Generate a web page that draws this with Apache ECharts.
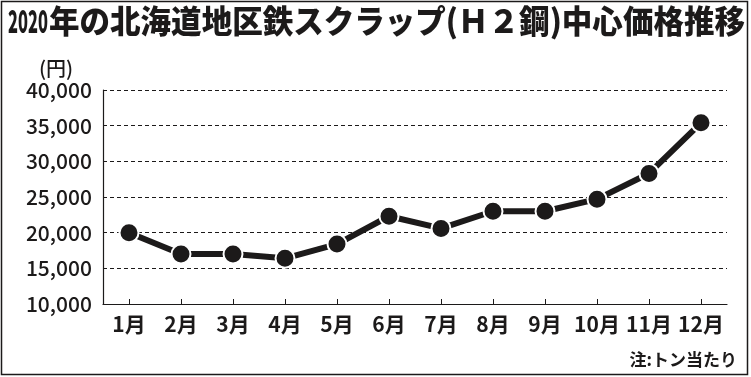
<!DOCTYPE html>
<html>
<head>
<meta charset="utf-8">
<script src="https://cdn.jsdelivr.net/npm/echarts@6/dist/echarts.min.js"></script>
<style>
html,body{margin:0;padding:0;background:#fff;}
#c{width:751px;height:377px;}
</style>
</head>
<body>
<div id="c"></div>
<script>
var months = ['1月','2月','3月','4月','5月','6月','7月','8月','9月','10月','11月','12月'];
var prices = [20000, 17000, 17000, 16400, 18400, 22300, 20600, 23000, 23000, 24700, 28300, 35400];
var yTicks = {min: 10000, max: 40000, interval: 5000};
var titleYear = '2020';
var titleRest = '年の北海道地区鉄スクラップ(Ｈ２鋼)中心価格推移';
var unitLabel = '(円)';
var noteLabel = '注:トン当たり';

var JP = '"Noto Sans CJK JP", "Noto Sans", sans-serif';
var INK = '#1c1a1a';

function measure(text, font) {
  var cv = document.createElement('canvas');
  var ctx = cv.getContext('2d');
  ctx.font = font;
  return ctx.measureText(text).width;
}
var tSize = 32;
var fontStr = '900 ' + tSize + 'px "Noto Sans CJK JP"';
var yearScale = 40 / measure(titleYear, fontStr);
var restScale = 696 / measure(titleRest, fontStr);

var chart = echarts.init(document.getElementById('c'), null, {renderer: 'canvas'});
chart.setOption({
  backgroundColor: '#fff',
  animation: false,
  grid: {left: 103, right: 24, top: 90, bottom: 73},
  xAxis: {
    type: 'category',
    data: months,
    boundaryGap: true,
    axisLine: {lineStyle: {color: INK, width: 1.2}},
    axisTick: {show: true, inside: true, alignWithLabel: true, length: 5, lineStyle: {color: INK, width: 1}},
    axisLabel: {color: INK, fontFamily: JP, fontSize: 21, fontWeight: 'bold', margin: 10, interval: 0}
  },
  yAxis: {
    type: 'value',
    min: yTicks.min, max: yTicks.max, interval: yTicks.interval,
    axisLine: {show: true, lineStyle: {color: INK, width: 1.2}},
    axisTick: {show: false},
    splitLine: {show: true, lineStyle: {color: INK, type: [4, 3], width: 1}},
    axisLabel: {
      color: INK, fontFamily: JP, fontSize: 21, fontWeight: 500, margin: 11,
      formatter: function (v) { return v.toLocaleString('en-US'); }
    }
  },
  series: [{
    type: 'line',
    data: prices,
    symbol: 'circle',
    symbolSize: 19,
    lineStyle: {color: INK, width: 6},
    itemStyle: {color: INK, borderColor: '#fff', borderWidth: 2},
    z: 5
  }],
  graphic: [
    {type: 'rect', shape: {x: 1.5, y: 1.5, width: 746, height: 373}, style: {fill: 'none', stroke: INK, lineWidth: 1.5}, silent: true},
    {type: 'text', x: 8, y: 21, scaleX: yearScale, style: {text: titleYear, font: fontStr, fill: INK, textAlign: 'left', textVerticalAlign: 'middle'}},
    {type: 'text', x: 49, y: 21, scaleX: restScale, style: {text: titleRest, font: fontStr, fill: INK, textAlign: 'left', textVerticalAlign: 'middle'}},
    {type: 'text', x: 39, y: 68, style: {text: unitLabel, font: '500 20px "Noto Sans CJK JP"', fill: INK, textAlign: 'left', textVerticalAlign: 'middle'}},
    {type: 'text', x: 737, y: 360, style: {text: noteLabel, font: 'bold 17px "Noto Sans CJK JP"', fill: INK, textAlign: 'right', textVerticalAlign: 'middle'}}
  ]
});
</script>
</body>
</html>
